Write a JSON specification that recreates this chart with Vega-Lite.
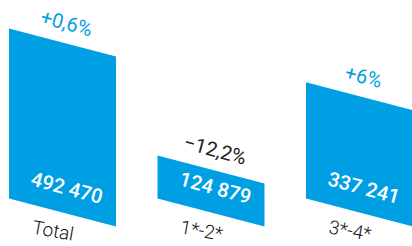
{
  "$schema": "https://vega.github.io/schema/vega-lite/v6.json",
  "width": 412,
  "height": 246,
  "padding": 0,
  "autosize": {"type": "none"},
  "background": "white",
  "config": {"view": {"stroke": null}},
  "data": {
    "values": [
      {"cat": "Total", "value": 492470, "label": "492 470", "change": "+0,6%"},
      {"cat": "1*-2*", "value": 124879, "label": "124 879", "change": "−12,2%"},
      {"cat": "3*-4*", "value": 337241, "label": "337 241", "change": "+6%"}
    ]
  },
  "transform": [
    {"calculate": "indexof(['Total','1*-2*','3*-4*'], datum.cat)", "as": "i"},
    {"calculate": "datum.i + 0.36", "as": "xc"},
    {"calculate": "-40580", "as": "ymidbase"},
    {"calculate": "datum.value - 40580", "as": "ymidtop"}
  ],
  "encoding": {
    "x": {"type": "quantitative", "scale": {"domain": [-0.0606, 2.7138], "nice": false, "zero": false}, "axis": null},
    "y": {"type": "quantitative", "scale": {"domain": [-137700, 575400], "nice": false, "zero": false}, "axis": null}
  },
  "layer": [
    {
      "transform": [
        {"calculate": "[0,1]", "as": "side"},
        {"flatten": ["side"]},
        {"calculate": "datum.i + datum.side * 0.7205", "as": "xp"},
        {"calculate": "datum.value - datum.side * 81160", "as": "ytop"},
        {"calculate": "-datum.side * 81160", "as": "ybot"}
      ],
      "mark": {"type": "area", "color": "#009FE3", "opacity": 1},
      "encoding": {
        "x": {"field": "xp", "type": "quantitative"},
        "y": {"field": "ytop", "type": "quantitative"},
        "y2": {"field": "ybot"},
        "detail": {"field": "cat"}
      }
    },
    {
      "mark": {"type": "text", "angle": 15, "dy": -24, "dx": -2, "fontSize": 20, "fontWeight": 500, "font": "Roboto", "color": "white", "baseline": "middle", "align": "center"},
      "encoding": {
        "x": {"field": "xc", "type": "quantitative"},
        "y": {"field": "ymidbase", "type": "quantitative"},
        "text": {"field": "label"}
      }
    },
    {
      "mark": {"type": "text", "angle": 15, "dy": -19, "dx": -1, "fontSize": 20, "font": "Roboto", "baseline": "middle", "align": "center"},
      "encoding": {
        "x": {"field": "xc", "type": "quantitative"},
        "y": {"field": "ymidtop", "type": "quantitative"},
        "text": {"field": "change"},
        "color": {"condition": {"test": "indexof(datum.change, '+') === 0", "value": "#009FE3"}, "value": "#222222"},
        "opacity": {"value": 1}
      }
    },
    {
      "mark": {"type": "text", "angle": 10, "dy": 20, "dx": -6, "fontSize": 19, "fontWeight": 300, "font": "Roboto", "color": "#111111", "baseline": "middle", "align": "center"},
      "encoding": {
        "x": {"field": "xc", "type": "quantitative"},
        "y": {"field": "ymidbase", "type": "quantitative"},
        "text": {"field": "cat"}
      }
    }
  ]
}
